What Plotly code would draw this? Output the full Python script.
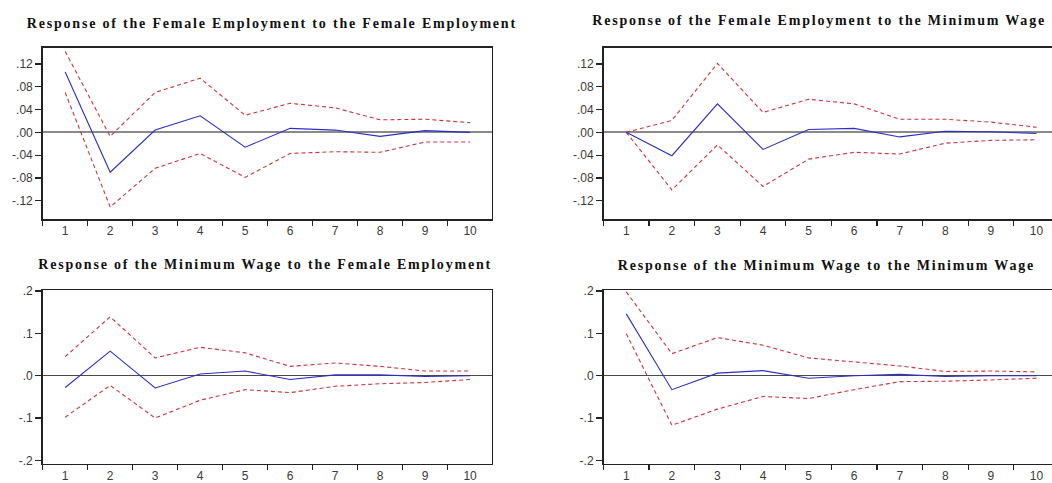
import plotly.graph_objects as go

# Impulse-response periods
periods = list(range(1, 11))

# Response of the Female Employment to the Female Employment
fe_fe_resp = [0.106, -0.070, 0.004, 0.029, -0.026, 0.007, 0.004, -0.007, 0.003, 0.000]
fe_fe_upper = [0.142, -0.007, 0.070, 0.095, 0.030, 0.051, 0.043, 0.022, 0.023, 0.017]
fe_fe_lower = [0.070, -0.131, -0.063, -0.037, -0.079, -0.037, -0.034, -0.035, -0.017, -0.017]

# Response of the Female Employment to the Minimum Wage
fe_mw_resp = [0.000, -0.041, 0.050, -0.030, 0.005, 0.007, -0.008, 0.002, 0.001, -0.002]
fe_mw_upper = [0.000, 0.021, 0.121, 0.035, 0.058, 0.050, 0.023, 0.023, 0.018, 0.009]
fe_mw_lower = [0.000, -0.101, -0.022, -0.095, -0.047, -0.035, -0.038, -0.019, -0.014, -0.013]

# Response of the Minimum Wage to the Female Employment
mw_fe_resp = [-0.028, 0.058, -0.029, 0.004, 0.011, -0.009, 0.002, 0.002, -0.002, 0.000]
mw_fe_upper = [0.045, 0.139, 0.042, 0.067, 0.054, 0.022, 0.030, 0.022, 0.011, 0.011]
mw_fe_lower = [-0.098, -0.023, -0.100, -0.058, -0.033, -0.040, -0.025, -0.019, -0.016, -0.009]

# Response of the Minimum Wage to the Minimum Wage
mw_mw_resp = [0.146, -0.033, 0.006, 0.012, -0.006, 0.000, 0.003, -0.002, 0.000, 0.000]
mw_mw_upper = [0.198, 0.052, 0.090, 0.072, 0.042, 0.033, 0.023, 0.010, 0.011, 0.009]
mw_mw_lower = [0.099, -0.117, -0.079, -0.049, -0.054, -0.033, -0.014, -0.013, -0.010, -0.006]

titles = [
    "Response of the Female Employment to the Female Employment",
    "Response of the Female Employment to the Minimum Wage",
    "Response of the Minimum Wage to the Female Employment",
    "Response of the Minimum Wage to the Minimum Wage",
]

small_ticks = [0.12, 0.08, 0.04, 0.0, -0.04, -0.08, -0.12]
small_labels = [".12", ".08", ".04", ".00", "-.04", "-.08", "-.12"]
large_ticks = [0.2, 0.1, 0.0, -0.1, -0.2]
large_labels = [".2", ".1", ".0", "-.1", "-.2"]

W, H = 1052, 483
BLUE = "#2e2ec2"
RED = "#cc3340"

panels = [
    (fe_fe_resp, fe_fe_upper, fe_fe_lower),
    (fe_mw_resp, fe_mw_upper, fe_mw_lower),
    (mw_fe_resp, mw_fe_upper, mw_fe_lower),
    (mw_mw_resp, mw_mw_upper, mw_mw_lower),
]

# pixel boxes of each plot frame: (left, right, top, bottom)
boxes = [
    (42.7, 491.7, 42.7, 218.0),
    (603.5, 1052.0, 42.7, 218.0),
    (42.7, 491.7, 290.7, 468.3),
    (603.5, 1052.0, 290.7, 468.3),
]
x_ranges = [[0.5, 10.48], [0.5, 10.34], [0.5, 10.48], [0.5, 10.34]]
y_ranges = [[-0.1521, 0.1485], [-0.1521, 0.1485], [-0.2077, 0.2022], [-0.2077, 0.2022]]
title_pos = [(271.7, 17.5), (819.0, 15.0), (265.0, 264.5), (826.0, 266.0)]
zero_colors = ["#8a8a8a", "#8a8a8a", "#4a4a4a", "#4a4a4a"]
tick_font = dict(family="Liberation Sans, Arial", size=12, color="#3a3a3a")

fig = go.Figure()
layout = {}
for i, (resp, up, lo) in enumerate(panels):
    n = "" if i == 0 else str(i + 1)
    xa, ya = "x" + n, "y" + n
    for vals, color, dash, width in [(up, RED, "4px,3px", 1.1),
                                     (lo, RED, "4px,3px", 1.1),
                                     (resp, BLUE, "solid", 1.1)]:
        fig.add_trace(go.Scatter(x=periods, y=vals, mode="lines",
                                 line=dict(color=color, dash=dash, width=width),
                                 xaxis=xa, yaxis=ya, showlegend=False,
                                 hoverinfo="skip"))
    l, r, t, b = boxes[i]
    right_open = r >= W
    layout["xaxis" + n] = dict(
        domain=[l / W, r / W], range=x_ranges[i], anchor=ya,
        tickmode="array", tickvals=periods, ticktext=[str(p) for p in periods],
        ticks="",
        minor=dict(tickmode="array", tickvals=[p + 0.5 for p in range(0, 11)],
                   ticks="outside", ticklen=5, tickcolor="#222", tickwidth=1.2),
        showgrid=False, zeroline=False, showline=True, linecolor="#222",
        linewidth=1.5, mirror=True, tickfont=tick_font,
    )
    tv, tt = (small_ticks, small_labels) if i < 2 else (large_ticks, large_labels)
    layout["yaxis" + n] = dict(
        domain=[1 - b / H, 1 - t / H], range=y_ranges[i], anchor=xa,
        tickmode="array", tickvals=tv, ticktext=tt,
        ticks="outside", ticklen=6, tickcolor="#222", tickwidth=1.2,
        showgrid=False, zeroline=True, zerolinecolor=zero_colors[i],
        zerolinewidth=1.8 if i < 2 else 1.4,
        showline=True, linecolor="#222", linewidth=1.5,
        mirror=False if right_open else True, tickfont=tick_font,
    )

annotations = []
for (cx, cy), text in zip(title_pos, titles):
    annotations.append(dict(
        text=text, x=cx / W, y=1 - cy / H, xref="paper", yref="paper",
        xanchor="center", yanchor="middle", showarrow=False,
        font=dict(family="Liberation Serif, Times New Roman", size=14,
                  color="#111", weight="bold"),
    ))

fig.update_layout(
    width=W, height=H, margin=dict(l=0, r=0, t=0, b=0),
    paper_bgcolor="white", plot_bgcolor="white",
    annotations=annotations, showlegend=False, hovermode=False,
    **layout,
)

# widen the spacing of the bold panel titles
spacing_js = (
    "document.querySelectorAll('.annotation-text').forEach(function(t){"
    "t.style.letterSpacing='1.8px';});"
)

fig.write_html("out.html", config={"displayModeBar": False, "staticPlot": True},
               post_script=spacing_js)
